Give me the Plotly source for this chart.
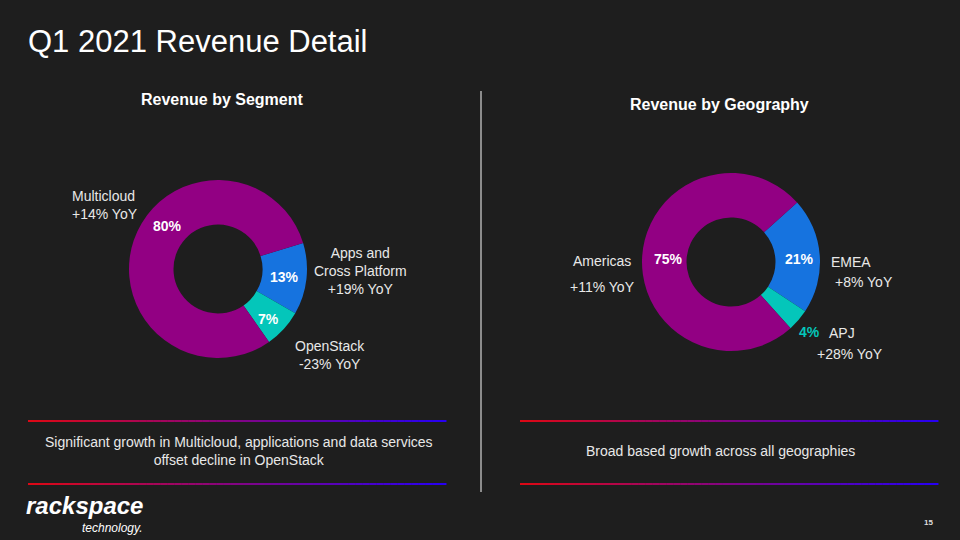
import plotly.graph_objects as go

# ---- data ----
title_text = "Q1 2021 Revenue Detail"
seg_title = "Revenue by Segment"
geo_title = "Revenue by Geography"

seg_labels = ["Apps and<br>Cross Platform", "OpenStack", "Multicloud"]
seg_values = [13, 7, 80]
seg_yoy = ["+19% YoY", "-23% YoY", "+14% YoY"]

geo_labels = ["EMEA", "APJ", "Americas"]
geo_values = [21, 4, 75]
geo_yoy = ["+8% YoY", "+28% YoY", "+11% YoY"]

seg_caption = "Significant growth in Multicloud, applications and data services<br>offset decline in OpenStack"
geo_caption = "Broad based growth across all geographies"
page_number = "15"

# ---- style ----
W, H = 960, 540
BG = "#1e1e1e"
BLUE = "#1673df"
TEAL = "#04c6ba"
PURPLE = "#920083"
FONT = "Liberation Sans, Arial, sans-serif"
TXT = "#e8e8e8"


def px(x):
    return x / W


def py(y):
    return 1 - y / H


fig = go.Figure()

fig.add_trace(go.Pie(
    labels=seg_labels, values=seg_values, hole=0.5, sort=False,
    direction="clockwise", rotation=73,
    marker=dict(colors=[BLUE, TEAL, PURPLE], line=dict(width=0)),
    textinfo="none", hoverinfo="skip",
    domain=dict(x=[px(129), px(307)], y=[py(358), py(180)]),
))
fig.add_trace(go.Pie(
    labels=geo_labels, values=geo_values, hole=0.5, sort=False,
    direction="clockwise", rotation=48,
    marker=dict(colors=[BLUE, TEAL, PURPLE], line=dict(width=0)),
    textinfo="none", hoverinfo="skip",
    domain=dict(x=[px(642), px(820)], y=[py(351), py(173)]),
))

ann = []


def add(text, x, y, size=14, color=TXT, bold=False, italic=False,
        xanchor="center", align="center", family=FONT):
    t = f"<b>{text}</b>" if bold else text
    if italic:
        t = f"<i>{t}</i>"
    ann.append(dict(text=t, x=px(x), y=py(y), xref="paper", yref="paper",
                    xanchor=xanchor, yanchor="middle", showarrow=False,
                    align=align, font=dict(size=size, color=color, family=family)))


add(title_text, 26, 41, size=31, color="#ffffff", xanchor="left", align="left")
add(seg_title, 222, 99, size=16, color="#ffffff", bold=True)
add(geo_title, 719, 104, size=16, color="#ffffff", bold=True)

# segment labels
add(f"{seg_labels[2]}<br>{seg_yoy[2]}", 70, 205, xanchor="left", align="left")
add(f"{seg_labels[0]}<br>{seg_yoy[0]}", 360, 271)
add(f"{seg_labels[1]}<br>{seg_yoy[1]}", 330, 355)
add(f"{seg_values[2]}%", 167, 226, color="#ffffff", bold=True)
add(f"{seg_values[0]}%", 284, 277, color="#ffffff", bold=True)
add(f"{seg_values[1]}%", 268, 319, color="#ffffff", bold=True)

# geography labels
add(geo_labels[2], 602, 261)
add(geo_yoy[2], 602, 287)
add(f"{geo_values[2]}%", 668, 259, color="#ffffff", bold=True)
add(f"{geo_values[0]}%", 799, 259, color="#ffffff", bold=True)
add(geo_labels[0], 851, 262)
add(geo_yoy[0], 864, 282)
add(f"{geo_values[1]}%", 809, 332, color=TEAL, bold=True)
add(geo_labels[1], 842, 333)
add(geo_yoy[1], 850, 354)

# captions
add(seg_caption, 239, 451)
add(geo_caption, 720, 451)

# logo and page number
add("rackspace", 24, 505, size=24, color="#ffffff", bold=True, italic=True,
    xanchor="left", align="left")
add("technology.", 80, 528, size=12, color="#ffffff", italic=True,
    xanchor="left", align="left")
add(page_number, 928, 522, size=8, color="#dddddd", bold=True)

shapes = []
# vertical divider
shapes.append(dict(type="line", xref="paper", yref="paper",
                   x0=px(481), x1=px(481), y0=py(91), y1=py(492),
                   line=dict(color="#8c8c8c", width=2)))


def grad_line(x0, x1, y, n=60):
    c0 = (222, 8, 20)
    c1 = (38, 0, 245)
    for i in range(n):
        a = x0 + (x1 - x0) * i / n
        b = x0 + (x1 - x0) * (i + 1) / n
        t = (i + 0.5) / n
        c = tuple(int(round(c0[k] + (c1[k] - c0[k]) * t)) for k in range(3))
        shapes.append(dict(type="line", xref="paper", yref="paper",
                           x0=px(a), x1=px(b) + 0.0005, y0=py(y), y1=py(y),
                           line=dict(color=f"rgb{c}", width=2)))


for yy in (421, 484):
    grad_line(28, 446, yy)
    grad_line(520, 938, yy)

fig.update_layout(
    width=W, height=H,
    margin=dict(l=0, r=0, t=0, b=0),
    paper_bgcolor=BG, plot_bgcolor=BG,
    showlegend=False, hovermode=False,
    annotations=ann, shapes=shapes,
    font=dict(family=FONT),
)

fig.write_html(
    "out.html",
    config={"displayModeBar": False},
    post_script="document.body.style.margin='0';document.body.style.background='#1e1e1e';",
)
